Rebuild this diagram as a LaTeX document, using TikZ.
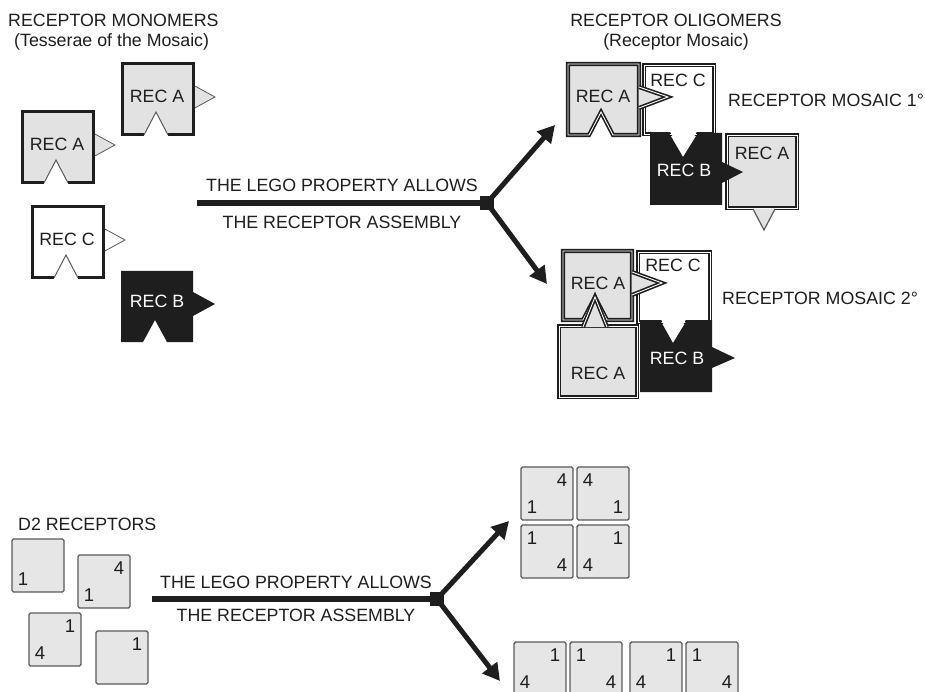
\documentclass[tikz,border=0pt]{standalone}
\usepackage{fontspec}
\setmainfont{Liberation Sans}
\usetikzlibrary{arrows.meta}
\definecolor{recgray}{HTML}{E2E2E2}
\definecolor{sqgray}{HTML}{E6E6E6}
\definecolor{edgegray}{HTML}{5A5A5A}
\definecolor{ink}{HTML}{1E1E1E}
\tikzset{
  lbl/.style={font=\fontsize{17.8}{20}\selectfont, inner sep=0pt, text=ink},
  num/.style={font=\fontsize{18.5}{20}\selectfont, inner sep=0pt, text=ink},
  monoedge/.style={line width=3pt, line join=miter, line cap=butt, draw=ink},
  mosedge/.style={draw=ink, line width=1.6pt, double=white, double distance=0.9pt, line join=miter},
  notchline/.style={draw=edgegray, line width=1pt},
  tri/.style={draw=edgegray, line width=0.8pt},
  bigarrow/.style={draw=ink, line width=5pt, -{Triangle[length=17pt,width=18pt]}},
  sq/.style={fill=sqgray, draw=edgegray, line width=1.4pt, rounded corners=1.5pt},
}
% monomer: #1 name, #2 x, #3 y, #4 fill, #5 triangle fill, #6 label
\newcommand\monomer[6]{%
\begin{scope}[shift={(#2,#3)}]
 \fill[#4] (0,0) -- (71,0) -- (71,71) -- (46,71) -- (34,48) -- (22,71) -- (0,71) -- cycle;
 \filldraw[fill=#5, tri] (71,21) -- (93,33) -- (71,45);
 \draw[monoedge] (22,71) -- (0,71) -- (0,0) -- (71,0) -- (71,71) -- (46,71);
 \draw[notchline] (22,71) -- (34,48) -- (46,71);
 \node[lbl] (#1) at (35,32) {#6};
\end{scope}}
% square with numbers: #1 x, #2 y, #3 TL, #4 TR, #5 BL, #6 BR, #7 name
\newcommand\dsq[7]{%
\begin{scope}[shift={(#1,#2)}]
 \draw[sq] (0,0) rectangle (52,53);
 \coordinate (#7) at (26,26);
 \ifx&#3&\else\node[num] (#7tl) at (11,13) {#3};\fi
 \ifx&#4&\else\node[num] (#7tr) at (41,13) {#4};\fi
 \ifx&#5&\else\node[num] (#7bl) at (11,40) {#5};\fi
 \ifx&#6&\else\node[num] (#7br) at (41,40) {#6};\fi
\end{scope}}
\begin{document}
\begin{tikzpicture}[x=1pt,y=-1pt]
\useasboundingbox (0,0) rectangle (925,692);
\clip (0,0) rectangle (925,692);
\fill[white] (0,0) rectangle (925,692);

% ---------- headers ----------
\node[lbl, anchor=west] (h1) at (8,20) {RECEPTOR MONOMERS};
\node[lbl, anchor=west] (h2) at (14,42) {(Tesserae of the Mosaic)};
\node[lbl] (h3) at (676,20) {RECEPTOR OLIGOMERS};
\node[lbl] (h4) at (676,42) {(Receptor Mosaic)};

% ---------- monomers ----------
\monomer{ma1}{122}{64}{recgray}{recgray}{REC A}
\monomer{ma2}{22}{112}{recgray}{recgray}{REC A}
\monomer{mc}{32}{207}{white}{white}{REC C}
\begin{scope}[shift={(121,271)}]
 \fill[ink] (0,0) -- (72,0) -- (72,21) -- (94,33) -- (72,45) -- (72,71) -- (46,71) -- (34,49) -- (22,71) -- (0,71) -- cycle;
 \node[lbl, text=white] (mb) at (36,30) {REC B};
\end{scope}

% ---------- top arrows ----------
\coordinate (s1) at (197,203);
\coordinate (j1) at (487,203);
\coordinate (t1u) at (555,125);
\coordinate (t1d) at (547,284);
\draw[draw=ink, line width=6pt] (s1) -- (j1);
\draw[bigarrow] (j1) -- (t1u);
\draw[bigarrow] (j1) -- (t1d);
\fill[ink] (j1) +(-7,-7) rectangle +(7,7);
\node[lbl] (l1) at (342,185) {THE LEGO PROPERTY ALLOWS};
\node[lbl] (l2) at (342,222) {THE RECEPTOR ASSEMBLY};

% ---------- mosaic 1 ----------
\filldraw[fill=white, mosedge] (644,65) rectangle (714,134);
\filldraw[fill=recgray, mosedge] (727,135) rectangle (797,208);
\filldraw[fill=recgray, tri, line width=1.2pt] (753,209) -- (764,230) -- (775,209);
\fill[ink] (650,133) -- (669,133) -- (683,157) -- (698,133) -- (722,133) -- (722,162) -- (743,172) -- (722,183) -- (722,205) -- (650,205) -- cycle;
\fill[white] (669.5,130.5) -- (697.5,130.5) -- (683,156) -- cycle;
\filldraw[fill=recgray, mosedge] (568,64) -- (639,64) -- (639,135) -- (613,135) -- (601,112) -- (589,135) -- (568,135) -- cycle;
\filldraw[fill=recgray, mosedge] (639,87) -- (668,97) -- (639,108);
\node[lbl] (m1a) at (603,96) {REC A};
\node[lbl] (m1c) at (678,80) {REC C};
\node[lbl, text=white] (m1b) at (684,170) {REC B};
\node[lbl] (m1a2) at (762,153) {REC A};
\node[lbl, anchor=west] (m1t) at (728,100) {RECEPTOR MOSAIC 1°};

% ---------- mosaic 2 ----------
\filldraw[fill=white, mosedge] (638,252) rectangle (710,322);
\fill[ink] (640,320) -- (660,320) -- (673,343) -- (687,320) -- (712,320) -- (712,347) -- (735,358) -- (712,368) -- (712,392) -- (640,392) -- cycle;
\fill[white] (660.5,318.5) -- (686.5,318.5) -- (673,342) -- cycle;
\filldraw[fill=recgray, mosedge] (563,251) -- (632,251) -- (632,320) -- (607,320) -- (595,297) -- (583,320) -- (563,320) -- cycle;
\filldraw[fill=recgray, mosedge] (632,272) -- (662,283) -- (632,295);
\filldraw[fill=recgray, mosedge] (559,326) rectangle (637,397);
\filldraw[fill=recgray, mosedge] (583,327) -- (595,297) -- (607,327);
\node[lbl] (m2a) at (598,283) {REC A};
\node[lbl] (m2c) at (673,265) {REC C};
\node[lbl, text=white] (m2b) at (677,358) {REC B};
\node[lbl] (m2a2) at (598,373) {REC A};
\node[lbl, anchor=west] (m2t) at (722,298) {RECEPTOR MOSAIC 2°};

% ---------- D2 receptors ----------
\node[lbl, anchor=west] (d2) at (18,524) {D2 RECEPTORS};
\dsq{12}{539}{}{}{1}{}{q1}
\dsq{78}{555}{}{4}{1}{}{q2}
\dsq{29}{613}{}{1}{4}{}{q3}
\dsq{96}{631}{}{1}{}{}{q4}

% ---------- bottom arrows ----------
\coordinate (s2) at (152,599);
\coordinate (j2) at (437,599);
\coordinate (t2u) at (509,521);
\coordinate (t2d) at (500,681);
\draw[draw=ink, line width=6pt] (s2) -- (j2);
\draw[bigarrow] (j2) -- (t2u);
\draw[bigarrow] (j2) -- (t2d);
\fill[ink] (j2) +(-7,-7) rectangle +(7,7);
\node[lbl] (l3) at (296,582) {THE LEGO PROPERTY ALLOWS};
\node[lbl] (l4) at (296,615) {THE RECEPTOR ASSEMBLY};

% ---------- grid 2x2 ----------
\dsq{521}{467}{}{4}{1}{}{g1}
\dsq{577}{467}{4}{}{}{1}{g2}
\dsq{521}{525}{1}{}{}{4}{g3}
\dsq{577}{525}{}{1}{4}{}{g4}

% ---------- row ----------
\dsq{514}{642}{}{1}{4}{}{r1}
\dsq{570}{642}{1}{}{}{4}{r2}
\dsq{630}{642}{}{1}{4}{}{r3}
\dsq{686}{642}{1}{}{}{4}{r4}
\end{tikzpicture}
\end{document}
